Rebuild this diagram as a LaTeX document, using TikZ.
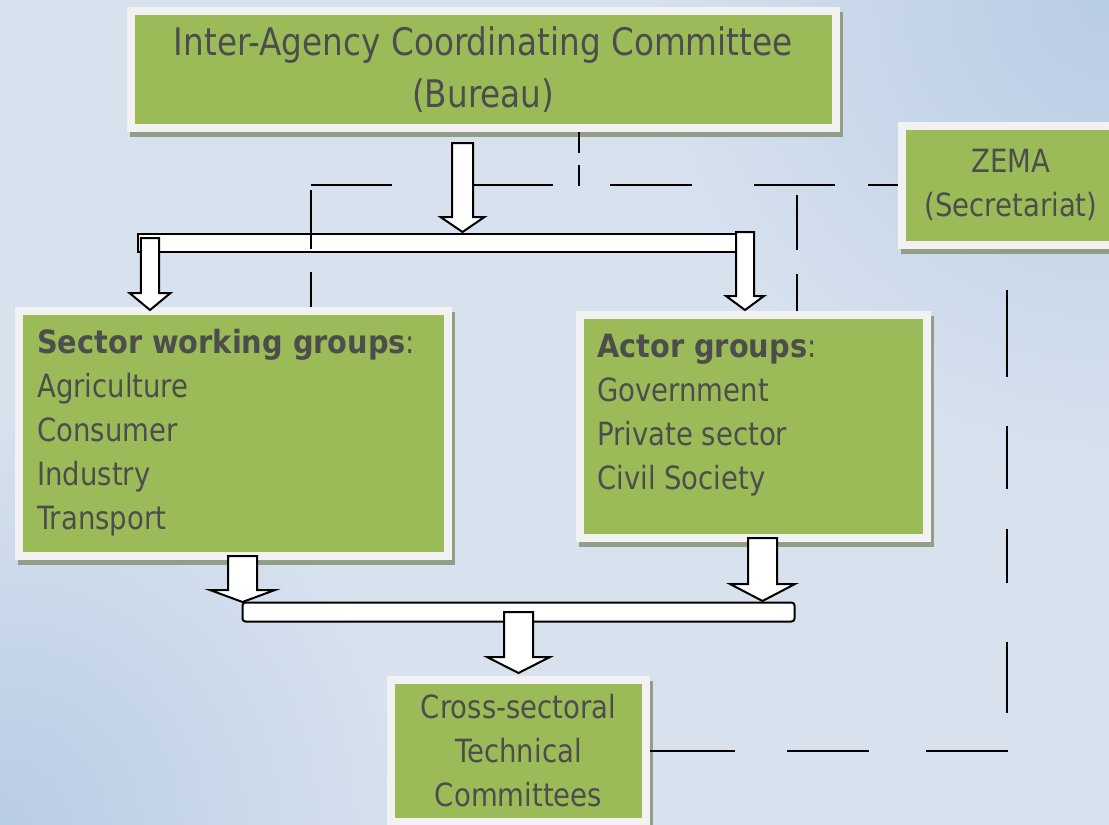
\documentclass[tikz,border=0pt]{standalone}
\usepackage{fontspec}
\setmainfont{DejaVu Sans}[FakeStretch=0.86, BoldFeatures={FakeStretch=0.90}]
\usetikzlibrary{shapes,arrows,positioning,calc,shadows}

\definecolor{boxgreen}{RGB}{155,187,89}
\definecolor{boxrim}{RGB}{242,242,242}
\definecolor{boxshade}{RGB}{146,158,136}
\definecolor{textgray}{RGB}{77,77,77}
\definecolor{bglight}{RGB}{216,226,239}
\definecolor{bgdark}{RGB}{184,204,228}

\newcommand{\iaccfont}{\fontsize{38}{52}\selectfont}
\newcommand{\groupfont}{\fontsize{32}{44}\selectfont}

% white block arrow pointing down: x, top, tip, shaft half, head half, head start
\newcommand{\downblock}[6]{%
    \draw[blockarrow] (#1-#4,#2) -- (#1+#4,#2) -- (#1+#4,#6) -- (#1+#5,#6)
        -- (#1,#3) -- (#1-#5,#6) -- (#1-#4,#6) -- cycle;}

\tikzset{
    box/.style = {
        draw=boxrim,
        fill=boxgreen,
        rectangle,
        line width=8pt,
        inner sep=0pt,
        align=center,
        text=textgray,
        font=\groupfont,
        general shadow={fill=boxshade, draw=boxshade, line width=8pt,
            shadow xshift=3pt, shadow yshift=-5pt}
    },
    grouptext/.style = {
        anchor=north west,
        align=left,
        inner sep=0pt,
        text=textgray,
        font=\groupfont
    },
    bar/.style = {
        draw,
        fill=white,
        rectangle,
        line width=2pt,
        inner sep=0pt
    },
    blockarrow/.style = {
        draw,
        fill=white,
        line width=2pt
    },
    link/.style = {
        draw,
        line width=2.4pt
    }
}

\begin{document}
\begin{tikzpicture}[x=1pt, y=-1pt, >=latex]
    \useasboundingbox (0,0) rectangle (1109,825);
    \clip (0,0) rectangle (1109,825);

    % background
    \fill[bglight] (0,0) rectangle (1109,825);
    \shade[inner color=bgdark, outer color=bglight] (1109,0) circle (480);
    \shade[inner color=bgdark, outer color=bglight] (0,825) circle (420);

    % bars
    \node[bar, minimum width=616pt, minimum height=18pt] (topbar) at (445.5,242.5) {};
    \node[bar, rounded corners=3pt, minimum width=552pt, minimum height=19pt] (lowbar) at (518.5,612) {};

    % nodes
    \node[box, minimum width=704.5pt, minimum height=117.5pt, font=\iaccfont] (iacc) at (483.25,69.25)
        {Inter-Agency Coordinating Committee\\(Bureau)};
    \node[box, minimum width=219pt, minimum height=118.5pt] (zema) at (1011,185.25)
        {ZEMA\\(Secretariat)};
    \node[box, minimum width=429pt, minimum height=245pt] (sector) at (233.5,433.5) {};
    \node[box, minimum width=347.5pt, minimum height=223.5pt] (actor) at (753.25,426.25) {};
    \node[box, minimum width=255pt, minimum height=142.5pt] (cross) at (518.5,750.75)
        {Cross-sectoral\\Technical\\Committees};

    \node[grouptext] (sectortext) at ($(sector.north west)+(22,21.5)$)
        {\textbf{Sector working groups}:\\Agriculture\\Consumer\\Industry\\Transport};
    \node[grouptext] (actortext) at ($(actor.north west)+(21.5,23)$)
        {\textbf{Actor groups}:\\Government\\Private sector\\Civil Society};

    % dashed links
    \coordinate (iacctap) at (579,195);
    \coordinate (sectorknee) at (311,185.25);
    \coordinate (actortap) at (797,185.25);
    \coordinate (zemadrop) at (1007,0);
    \draw[link, dash pattern=on 21pt off 12pt] (iacc.south -| iacctap) -- (iacctap);
    \draw[link, dash pattern=on 29.5pt off 33pt on 81pt off 62pt on 82pt off 57pt on 79pt off 82pt on 90pt off 10pt]
        (zema.west) -- (sectorknee);
    \draw[link, dash pattern=on 59pt off 23pt, dash phase=77pt] (sectorknee) -- (sectorknee |- sector.north);
    \draw[link, dash pattern=on 55pt off 24pt, dash phase=69pt] (actortap) -- (actortap |- actor.north);
    \draw[link, dash pattern=on 0pt off 41.5pt on 87pt off 49pt on 63pt off 40pt on 54pt off 59pt on 71pt off 37pt
        on 82pt off 57pt on 82pt off 52pt on 90pt off 10pt] (zema.south -| zemadrop) |- (cross.east);

    % block arrows
    \downblock{462.5}{143}{232}{10.5}{22}{217}
    \downblock{150}{238}{310}{9.2}{20.5}{293}
    \downblock{745}{232}{310}{9}{19}{296}
    \downblock{242.5}{556}{602}{14.5}{32.5}{590}
    \downblock{762.5}{538}{601}{14.5}{32.5}{584}
    \downblock{518.5}{612}{673}{14.5}{31.5}{657}
\end{tikzpicture}
\end{document}
